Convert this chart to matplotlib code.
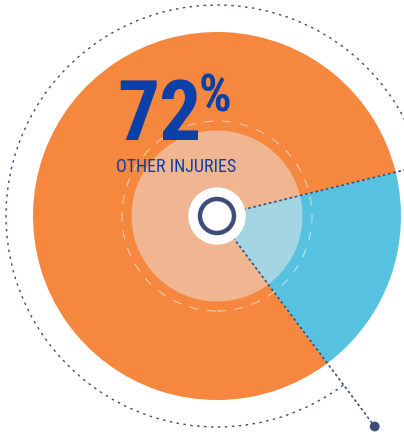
import numpy as np
import matplotlib
matplotlib.use("Agg")
import matplotlib.pyplot as plt
from matplotlib import font_manager
from matplotlib.patches import Circle, Arc

# ---- data ----
categories = ["Other injuries", "Remaining"]
shares = [81.4, 18.6]          # angular shares of the drawn wedges
headline_value = "72"
headline_unit = "%"
headline_label = "OTHER INJURIES"

outer_colors = ["#F5873F", "#57C2DF"]
inner_colors = ["#F0B692", "#A3D5E3"]
text_blue = "#0B40A8"
navy = "#3E4C79"

# ---- font choice ----
available = {f.name for f in font_manager.fontManager.ttflist}
narrow = None
for cand in ["Liberation Sans Narrow", "DejaVu Sans Condensed", "Roboto Condensed", "Open Sans Condensed"]:
    if cand in available:
        narrow = cand
        break
if narrow is None:
    narrow = "DejaVu Sans"

W, H = 404, 435
fig = plt.figure(figsize=(W / 100, H / 100), dpi=100)
ax = fig.add_axes([0, 0, 1, 1])

cx, cy = 217, H - 217
R_out = 184
R_in = 85.5
start = 13.8

ax.pie(shares, radius=R_out, center=(cx, cy), startangle=start, colors=outer_colors,
       wedgeprops=dict(linewidth=0), frame=True)
ax.pie(shares, radius=R_in, center=(cx, cy), startangle=start, colors=inner_colors,
       wedgeprops=dict(linewidth=0), frame=True)

# dashed light ring
ax.add_patch(Circle((cx, cy), 95, fill=False, edgecolor="white", alpha=0.55,
                    linewidth=0.8, linestyle=(0, (8, 8)), zorder=3))

# boundary angles
a1 = np.deg2rad(start)
a2 = np.deg2rad(start + 360 * shares[0] / sum(shares))

dot_style = dict(color=navy, linewidth=1.2, linestyle=(0, (1.6, 1.6)), zorder=4)
ax.plot([cx, cx + 200 * np.cos(a1)], [cy, cy + 200 * np.sin(a1)], **dot_style)
r_dot = 263
ax.plot([cx, cx + r_dot * np.cos(a2)], [cy, cy + r_dot * np.sin(a2)], **dot_style)
ax.add_patch(Circle((cx + r_dot * np.cos(a2), cy + r_dot * np.sin(a2)), 4.2,
                    color=navy, zorder=5))

# outer dotted arc over the orange range
ax.add_patch(Arc((cx, cy), 2 * 211, 2 * 211, theta1=start, theta2=np.rad2deg(a2),
                 edgecolor=navy, linewidth=1.0, linestyle=(0, (1.8, 3.2)), zorder=4))

# centre white disc with navy ring
ax.add_patch(Circle((cx, cy), 28, color="white", zorder=6))
ax.add_patch(Circle((cx, cy), 17, fill=False, edgecolor=navy, linewidth=3.2, zorder=7))

# headline text
ax.text(117, H - 140, headline_value, fontsize=60, fontweight="bold", color=text_blue,
        family=[narrow, "DejaVu Sans"], ha="left", va="baseline", zorder=8)
ax.text(199, H - 112, headline_unit, fontsize=37, fontweight="bold", color=text_blue,
        family=[narrow, "DejaVu Sans"], ha="left", va="baseline", zorder=8)
ax.text(116, H - 172, headline_label, fontsize=13, color=text_blue,
        family=[narrow, "DejaVu Sans"], ha="left", va="baseline", zorder=8)

ax.set_xlim(0, W)
ax.set_ylim(0, H)
ax.set_aspect("equal")
ax.axis("off")

fig.savefig("out.png", dpi=100)
